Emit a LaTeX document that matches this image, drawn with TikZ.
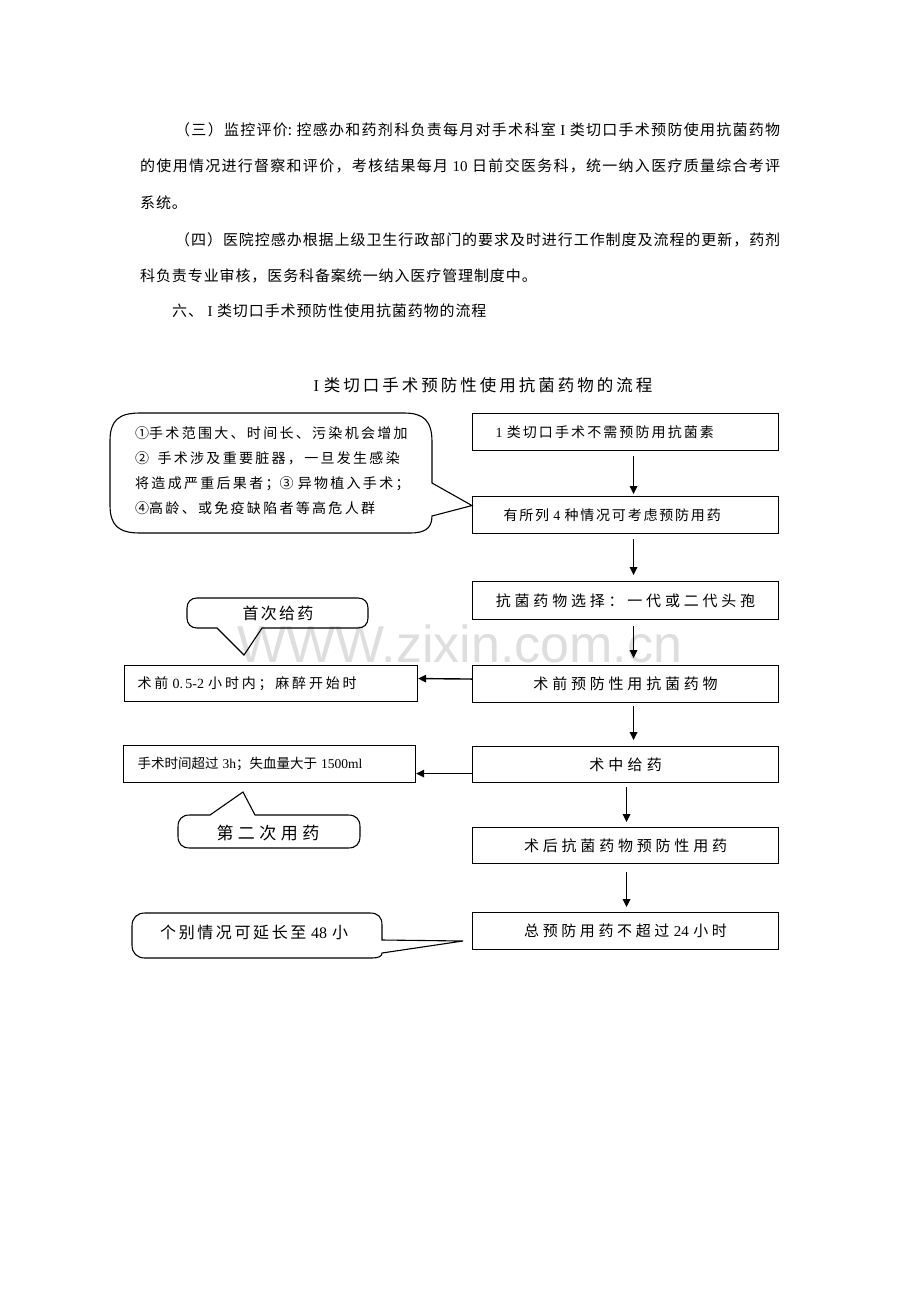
\documentclass[tikz,border=0pt]{standalone}
\usepackage{fontspec}
\setmainfont{Liberation Serif}
\newfontfamily\cjk{Noto Sans CJK SC}
\newfontfamily\wmfont{Liberation Sans}
\usetikzlibrary{arrows.meta,calc}
\newXeTeXintercharclass\mycjkcls
\newcount\mycc
\newdimen\cjkgap
\cjkgap=0pt
\mycc="3000 \loop \XeTeXcharclass\mycc=\mycjkcls \advance\mycc 1 \ifnum\mycc<"3040 \repeat
\mycc="4E00 \loop \XeTeXcharclass\mycc=\mycjkcls \advance\mycc 1 \ifnum\mycc<"A000 \repeat
\mycc="FF00 \loop \XeTeXcharclass\mycc=\mycjkcls \advance\mycc 1 \ifnum\mycc<"FFF0 \repeat
\XeTeXinterchartoks\mycjkcls\mycjkcls={\hskip\cjkgap plus 1pt\relax}
\XeTeXinterchartokenstate=1
\newcommand\en[1]{{\rmfamily #1}}
\newcommand\gp{\hspace*{0.3em}}
\newcommand\cf[2]{\cjk\fontsize{#1}{#1}\selectfont\cjkgap=#2pt\relax}
\newcommand\cfl[3]{\cjk\fontsize{#1}{#2}\selectfont\cjkgap=#3pt\relax}
\definecolor{wm}{RGB}{222,222,222}
\tikzset{
  para/.style={anchor=west, inner sep=0pt, font=\cf{15}{0.9}},
  box/.style={draw, line width=1.1pt, minimum width=306pt, minimum height=37pt, inner sep=0pt, anchor=north west},
  lbox/.style={draw, line width=1.1pt, minimum height=36pt, inner ysep=0pt, anchor=north west},
  arr/.style={-{Triangle[length=8pt,width=7.5pt]}, line width=1.4pt},
  co/.style={draw, line width=1.1pt},
  ctext/.style={inner sep=0pt}
}
\begin{document}
\begin{tikzpicture}[x=1pt,y=-1pt]
\useasboundingbox (0,0) rectangle (920,1302);
\fill[white] (0,0) rectangle (920,1302);

% watermark
\node[anchor=base west, inner sep=0pt, text=wm, font=\wmfont\fontsize{52}{52}\selectfont] (wm) at (237,662) {WWW.zixin.com.cn};

% paragraph
\node[para] (p1) at (175,130) {\makebox[605pt][s]{（三）监控评价:\gp 控感办和药剂科负责每月对手术科室\gp\en{I}\gp 类切口手术预防使用抗菌药物}};
\node[para] (p2) at (140,166) {\makebox[640pt][s]{的使用情况进行督察和评价，考核结果每月\gp\en{10}\gp 日前交医务科，统一纳入医疗质量综合考评}};
\node[para] (p3) at (140,203) {系统。};
\node[para] (p4) at (175,240) {\makebox[605pt][s]{（四）医院控感办根据上级卫生行政部门的要求及时进行工作制度及流程的更新，药剂}};
\node[para] (p5) at (140,276) {科负责专业审核，医务科备案统一纳入医疗管理制度中。};
\node[para] (p6) at (172,311) {六、\gp\en{I}\gp 类切口手术预防性使用抗菌药物的流程};

% title
\node[font=\cf{16.5}{3}, inner sep=0pt] (title) at (483,385) {\en{I}\gp 类切口手术预防性使用抗菌药物的流程};

% right column boxes
\node[box, font=\cf{14}{2.1}, inner xsep=23pt] (b1) at (472,413) {\makebox[260pt][l]{\en{1}\gp 类切口手术不需预防用抗菌素}};
\node[box, font=\cf{14}{1.8}, inner xsep=31pt] (b2) at (472,496) {\makebox[244pt][l]{有所列\gp\en{4}\gp 种情况可考虑预防用药}};
\node[box, font=\cf{15}{3.8}, minimum height=38pt] (b3) at (472,581) {抗菌药物选择：一代或二代头孢};
\node[box, font=\cf{15}{3.8}] (b4) at (472,665) {术前预防性用抗菌药物};
\node[box, font=\cf{15}{4.2}, minimum height=36pt] (b5) at (472,746) {术中给药};
\node[box, font=\cf{15}{3.8}, minimum height=36pt] (b6) at (472,827) {术后抗菌药物预防性用药};
\node[box, font=\cf{15}{3.6}] (b7) at (472,912) {总预防用药不超过\gp\en{24}\gp 小时};

% left boxes
\node[lbox, font=\cf{14}{2.8}, inner xsep=13pt] (l1) at (124,665) {\makebox[267pt][l]{术前\gp\en{0.\,5-2}\gp 小时内；麻醉开始时}};
\node[lbox, font=\cf{13.5}{0}, inner xsep=14pt, minimum height=37pt] (l2) at (123,745) {\makebox[264pt][l]{手术时间超过\gp\en{3h}；失血量大于\gp\en{1500ml}}};

% arrows
\draw[arr] ($(b1.south)+(8,5)$) -- ($(b2.north)+(8,-2)$);
\draw[arr] ($(b2.south)+(8,5)$) -- ($(b3.north)+(8,-6)$);
\draw[arr] ($(b3.south)+(8,6)$) -- ($(b4.north)+(8,-7)$);
\draw[arr] ($(b4.south)+(8,3)$) -- ($(b5.north)+(8,-6)$);
\draw[arr] ($(b5.south)+(1,4)$) -- ($(b6.north)+(1,-5)$);
\draw[arr] ($(b6.south)+(1,8)$) -- ($(b7.north)+(1,-5)$);
\draw[arr] ($(b4.west)+(0,-5)$) -- ($(l1.east)+(0,-5)$);
\draw[arr] ($(b5.west)+(0,9)$) -- ($(l2.east)+(0,9.5)$);

% callout 1
\coordinate (t1) at ($(b2.west)+(0,-9.5)$);
\draw[co] (140,413) -- (404,413) .. controls (424,413) and (432,421) .. (432,442) -- (432,483) -- (t1) -- (432,516)
  .. controls (432,529) and (424,533) .. (410,533) -- (140,533) .. controls (118,533) and (110,525) .. (110,505)
  -- (110,441) .. controls (110,421) and (118,413) .. (140,413) -- cycle;
\node[ctext, font=\cfl{14}{25}{2.3}, align=left, anchor=west] (c1) at (135,471)
  {①手术范围大、时间长、污染机会增加\\②\gp\gp 手术涉及重要脏器，一旦发生感染\\将造成严重后果者；③\gp 异物植入手术；\\④高龄、或免疫缺陷者等高危人群};

% callout 2
\coordinate (t2) at (244,655);
\draw[co] (197,598) -- (358,598) .. controls (364,598) and (368,602) .. (368,608) -- (368,618) .. controls (368,624) and (364,628) .. (358,628)
  -- (262,628) -- (t2) -- (217,628) -- (197,628) .. controls (191,628) and (187,624) .. (187,618) -- (187,608) .. controls (187,602) and (191,598) .. (197,598) -- cycle;
\node[ctext, font=\cf{16}{2.3}] (c2) at (278,613) {首次给药};

% callout 3
\coordinate (t3) at (243,792);
\draw[co] (190,815) -- (210,815) -- (t3) -- (255,815) -- (348,815) .. controls (356,815) and (360,819) .. (360,827) -- (360,836)
  .. controls (360,844) and (356,848) .. (348,848) -- (190,848) .. controls (182,848) and (178,844) .. (178,836) -- (178,827)
  .. controls (178,819) and (182,815) .. (190,815) -- cycle;
\node[ctext, font=\cf{17}{4.5}] (c3) at (268,833) {第二次用药};

% callout 4
\coordinate (t4) at (463,941);
\draw[co] (145,913) -- (370,913) .. controls (378,913) and (382,917) .. (382,925) -- (382,940) -- (t4) -- (382,953)
  .. controls (382,956) and (379,958) .. (372,958) -- (145,958) .. controls (137,958) and (132,953) .. (132,945) -- (132,926)
  .. controls (132,918) and (137,913) .. (145,913) -- cycle;
\node[ctext, font=\cf{16}{2.6}, anchor=west] (c4) at (160,932) {个别情况可延长至\gp\en{48}\gp 小};
\end{tikzpicture}
\end{document}
